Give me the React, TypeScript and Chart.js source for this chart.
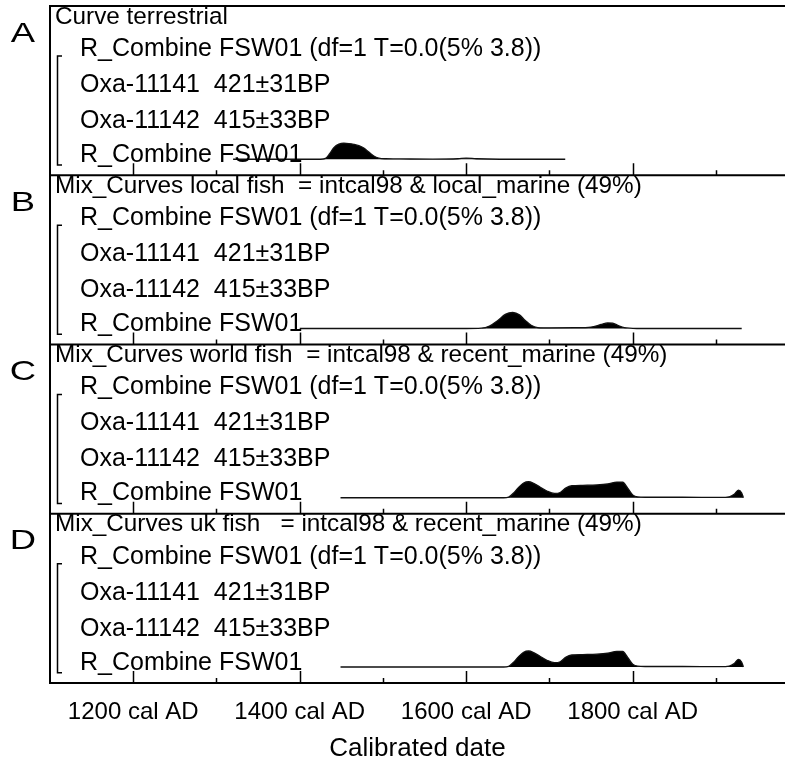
import React, { useEffect, useRef } from 'react';
import { Chart, registerables } from 'chart.js';

Chart.register(...registerables);

// ---------- data ----------
const panelLetters = ['A', 'B', 'C', 'D'];
const panelTitles = [
  'Curve terrestrial',
  'Mix_Curves local fish  = intcal98 & local_marine (49%)',
  'Mix_Curves world fish  = intcal98 & recent_marine (49%)',
  'Mix_Curves uk fish   = intcal98 & recent_marine (49%)',
];
const rowLabels = [
  'R_Combine FSW01 (df=1 T=0.0(5% 3.8))',
  'Oxa-11141  421±31BP',
  'Oxa-11142  415±33BP',
  'R_Combine FSW01',
];

const tickYears = [1200, 1300, 1400, 1500, 1600, 1700, 1800, 1900];
const majorTickYears = [1200, 1400, 1600, 1800];
const tickLabels = ['1200 cal AD', '1400 cal AD', '1600 cal AD', '1800 cal AD'];
const axisTitle = 'Calibrated date';

const yearsA = [1320, 1425, 1431, 1436, 1441, 1447, 1453, 1459, 1465, 1471, 1477, 1483, 1489, 1495, 1503, 1520, 1560, 1590, 1600, 1612, 1640, 1719];
const probA = [0, 0, 0.05, 0.35, 0.72, 0.94, 1.0, 0.98, 0.93, 0.85, 0.7, 0.45, 0.2, 0.07, 0.03, 0.02, 0.01, 0.03, 0.07, 0.03, 0, 0];

const yearsB = [1400, 1600, 1618, 1628, 1638, 1647, 1656, 1664, 1671, 1678, 1686, 1700, 1730, 1750, 1762, 1770, 1776, 1782, 1790, 1805, 1931];
const probB = [0, 0, 0.02, 0.15, 0.5, 0.88, 1.0, 0.85, 0.5, 0.2, 0.06, 0.04, 0.05, 0.09, 0.25, 0.35, 0.33, 0.2, 0.05, 0, 0];

const yearsC = [1449, 1645, 1651, 1657, 1663, 1669, 1675, 1681, 1689, 1697, 1706, 1713, 1720, 1727, 1740, 1757, 1770, 1781, 1788, 1794, 1800, 1806, 1815, 1860, 1905, 1916, 1922, 1927, 1931, 1933];
const probC = [0, 0, 0.04, 0.3, 0.65, 0.92, 1.0, 0.9, 0.66, 0.42, 0.27, 0.33, 0.62, 0.75, 0.78, 0.8, 0.86, 0.98, 0.97, 0.6, 0.18, 0.05, 0.03, 0.03, 0.02, 0.06, 0.22, 0.48, 0.3, 0];

const yearsD = [1449, 1645, 1651, 1657, 1663, 1669, 1675, 1681, 1689, 1697, 1706, 1713, 1720, 1727, 1740, 1757, 1770, 1781, 1788, 1794, 1800, 1806, 1815, 1860, 1905, 1916, 1922, 1927, 1931, 1933];
const probD = [0, 0, 0.04, 0.3, 0.65, 0.92, 1.0, 0.9, 0.66, 0.42, 0.27, 0.33, 0.62, 0.75, 0.78, 0.8, 0.86, 0.98, 0.97, 0.6, 0.18, 0.05, 0.03, 0.03, 0.02, 0.06, 0.22, 0.48, 0.3, 0];

const panelYears = [yearsA, yearsB, yearsC, yearsD];
const panelProbs = [probA, probB, probC, probD];
const panelIds = ['yA', 'yB', 'yC', 'yD'];

// ---------- styling ----------
const FONT = '"Liberation Sans", Arial, sans-serif';

const panelPlugin = {
  id: 'panelDecor',
  afterDatasetsDraw(chart: any) {
    const { ctx, chartArea: ca, scales } = chart;
    const xs = scales.x;
    ctx.save();
    ctx.strokeStyle = '#000';
    ctx.fillStyle = '#000';
    // outer box: top + left
    ctx.lineWidth = 2;
    ctx.beginPath();
    ctx.moveTo(ca.left, ca.top);
    ctx.lineTo(ca.right + 5, ca.top);
    ctx.moveTo(ca.left, ca.top - 1);
    ctx.lineTo(ca.left, ca.bottom + 1);
    ctx.stroke();

    panelIds.forEach((id, i) => {
      const s = scales[id];
      const top = s.top;
      const bottom = s.bottom;
      // separator / bottom line
      ctx.lineWidth = 2;
      ctx.beginPath();
      ctx.moveTo(ca.left, bottom);
      ctx.lineTo(ca.right + 5, bottom);
      ctx.stroke();
      // inward ticks
      ctx.lineWidth = 1.5;
      ctx.beginPath();
      tickYears.forEach((yr) => {
        const px = Math.round(xs.getPixelForValue(yr)) + 0.5;
        const len = majorTickYears.includes(yr) ? 12 : 5;
        ctx.moveTo(px, bottom);
        ctx.lineTo(px, bottom - len);
      });
      ctx.stroke();
      // bracket
      ctx.lineWidth = 1.5;
      ctx.beginPath();
      ctx.moveTo(62, top + 50);
      ctx.lineTo(57.5, top + 50);
      ctx.lineTo(57.5, top + 159);
      ctx.lineTo(62, top + 159);
      ctx.stroke();
      // texts
      ctx.textBaseline = 'middle';
      ctx.textAlign = 'left';
      ctx.font = `24.3px ${FONT}`;
      ctx.fillText(panelTitles[i], 55, top + 11);
      ctx.font = `25px ${FONT}`;
      const rowOffsets = [43, 79, 115, 149];
      rowLabels.forEach((t, k) => ctx.fillText(t, 80, top + rowOffsets[k]));
      // panel letter (wide)
      ctx.save();
      ctx.translate(23, top + 28);
      ctx.scale(1.3, 1);
      ctx.textAlign = 'center';
      ctx.font = `28px ${FONT}`;
      ctx.fillText(panelLetters[i], 0, 0);
      ctx.restore();
    });
    ctx.restore();
  },
};

const yScale = (weight: number) => ({
  type: 'linear' as const,
  position: 'left' as const,
  stack: 'panels',
  stackWeight: 1,
  weight,
  min: -1,
  max: 9.58,
  display: true,
  ticks: { display: false },
  grid: { display: false, drawTicks: false },
  border: { display: false },
});

export default function App() {
  const ref = useRef<HTMLCanvasElement>(null);
  useEffect(() => {
    if (!ref.current) return;
    const datasets = panelIds.map((id, i) => ({
      label: panelTitles[i],
      data: panelYears[i].map((yr, k) => ({ x: yr, y: panelProbs[i][k] })),
      yAxisID: id,
      borderColor: '#111',
      borderWidth: 1.3,
      backgroundColor: '#000',
      fill: { value: 0 },
      pointRadius: 0,
      cubicInterpolationMode: 'monotone' as const,
    }));
    const chart = new Chart(ref.current, {
      type: 'line',
      data: { datasets },
      options: {
        responsive: false,
        animation: false,
        devicePixelRatio: 1,
        layout: { padding: { left: 50, right: 0, top: 6, bottom: 0 } },
        plugins: { legend: { display: false }, tooltip: { enabled: false } },
        scales: {
          x: {
            type: 'linear',
            min: 1100,
            max: 1983,
            afterFit: (s: any) => {
              s.height = 78;
            },
            ticks: {
              stepSize: 100,
              autoSkip: false,
              maxRotation: 0,
              includeBounds: false,
              padding: 15,
              color: '#000',
              font: { size: 24, family: FONT },
              callback: (v: any) => {
                const idx = majorTickYears.indexOf(Number(v));
                return idx >= 0 ? tickLabels[idx] : '';
              },
            },
            grid: { display: false, drawTicks: false },
            border: { display: false },
            title: {
              display: true,
              text: axisTitle,
              color: '#000',
              font: { size: 26, family: FONT },
              padding: { top: 0, bottom: -3 },
            },
          },
          yA: yScale(4),
          yB: yScale(3),
          yC: yScale(2),
          yD: yScale(1),
        } as any,
      },
      plugins: [panelPlugin],
    });
    return () => chart.destroy();
  }, []);
  return (
    <div style={{ position: 'fixed', left: 0, top: 0, width: 785, height: 761, background: '#fff', overflow: 'hidden' }}>
      <canvas ref={ref} width={785} height={761} style={{ display: 'block', width: 785, height: 761 }} />
    </div>
  );
}
